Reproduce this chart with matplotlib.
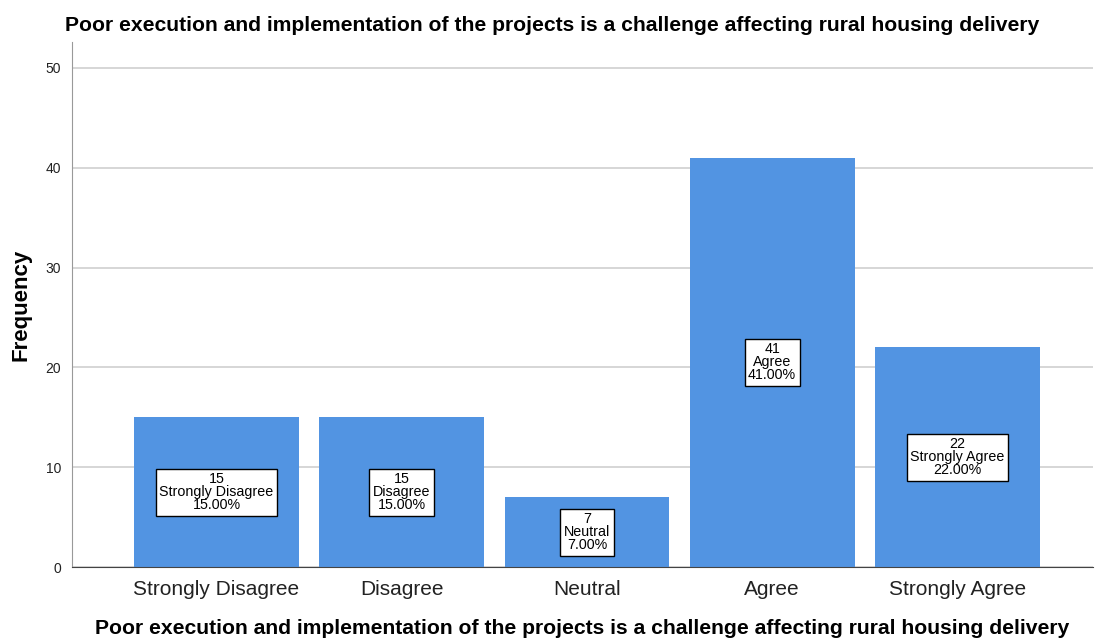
import matplotlib.pyplot as plt

plt.rcParams['font.family'] = ['Liberation Sans', 'DejaVu Sans']

categories = ['Strongly Disagree', 'Disagree', 'Neutral', 'Agree', 'Strongly Agree']
counts = [15, 15, 7, 41, 22]
percents = [15.00, 15.00, 7.00, 41.00, 22.00]
title = 'Poor execution and implementation of the projects is a challenge affecting rural housing delivery'

fig = plt.figure(figsize=(10.95, 6.42), dpi=100)
ax = fig.add_axes([0.0658, 0.1168, 0.932, 0.8178])

x = range(len(categories))
ax.bar(x, counts, width=0.89, color='#5294E2', zorder=2)

# boxed labels in the middle of each bar
for i, (c, name, p) in enumerate(zip(counts, categories, percents)):
    ax.text(i, c / 2, f'{c}\n{name}\n{p:.2f}%', ha='center', va='center',
            fontsize=10.3, linespacing=0.9, zorder=3,
            bbox=dict(boxstyle='square,pad=0.25', facecolor='white', edgecolor='black', linewidth=1))

ax.set_xlim(-0.78, 4.73)
ax.set_ylim(0, 52.6)
ax.set_yticks([0, 10, 20, 30, 40, 50])
ax.set_xticks(list(x))
ax.set_xticklabels(categories, fontsize=15, color='#222222')
ax.tick_params(axis='y', labelsize=10, length=0, pad=8, labelcolor='#222222')
ax.tick_params(axis='x', length=0, pad=9)
ax.yaxis.grid(True, color='#D0D0D0', linewidth=1.2, zorder=0)
ax.set_axisbelow(True)

for s in ['top', 'right']:
    ax.spines[s].set_visible(False)
ax.spines['left'].set_color('#999999')
ax.spines['bottom'].set_color('#444444')

ax.set_ylabel('Frequency', fontsize=16, fontweight='bold', labelpad=10)
ax.set_xlabel(title, fontsize=15.2, fontweight='bold', labelpad=15)
fig.text(0.059, 0.96, title, fontsize=15.2, fontweight='bold', ha='left', va='center')

fig.savefig('out.png', dpi=100)
